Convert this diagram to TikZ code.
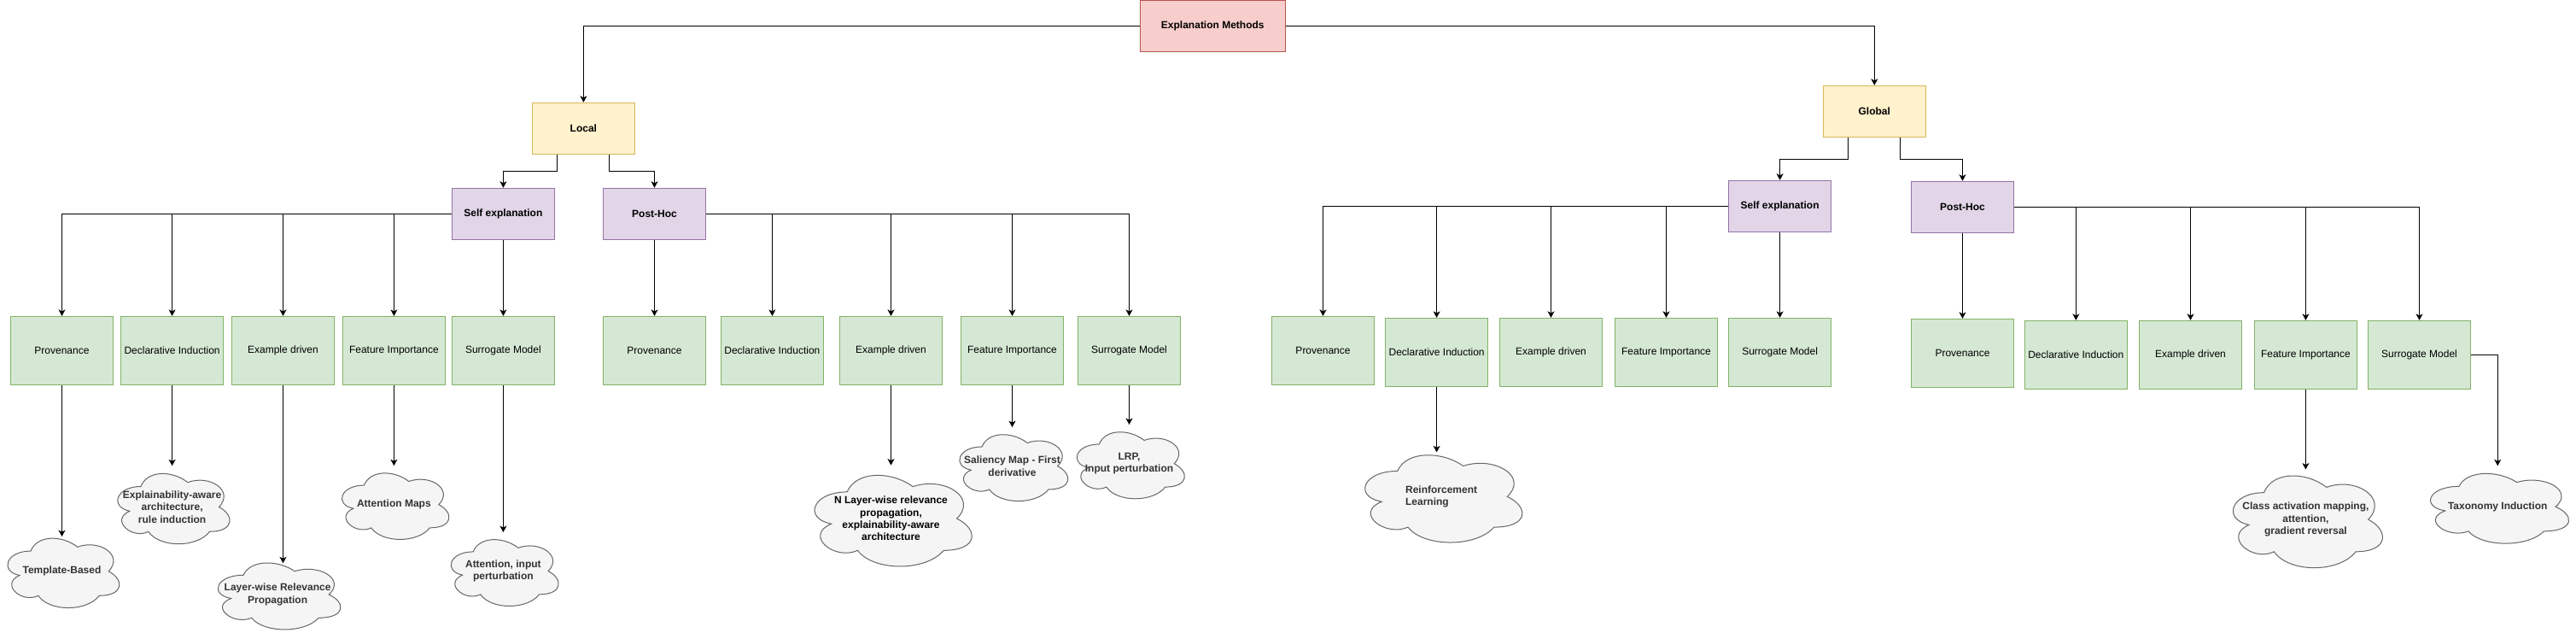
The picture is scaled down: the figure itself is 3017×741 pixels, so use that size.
\documentclass[tikz,border=0pt]{standalone}
\usepackage{fontspec}
\setmainfont{Liberation Sans}
\usetikzlibrary{arrows.meta}

\definecolor{xaicolor0000}{RGB}{248,206,204}
\definecolor{xaicolor0001}{RGB}{184,84,80}
\definecolor{xaicolor0002}{RGB}{255,242,204}
\definecolor{xaicolor0003}{RGB}{214,182,86}
\definecolor{xaicolor0004}{RGB}{225,213,231}
\definecolor{xaicolor0005}{RGB}{150,115,166}
\definecolor{xaicolor0006}{RGB}{213,232,212}
\definecolor{xaicolor0007}{RGB}{130,179,102}
\definecolor{xaicolor0008}{RGB}{245,245,245}
\definecolor{xaicolor0009}{RGB}{102,102,102}
\definecolor{xaicolor0010}{RGB}{51,51,51}

% cloud outline in a w x h box round (cx,cy), with a named text node on it
\newcommand{\cloudnode}[7][]{%
  \begin{scope}[shift={(#3pt-0.5*#5pt,#4pt-0.5*#6pt)},x=#5pt,y=#6pt]
    \draw[pstyle5] (0.25,0.25) .. controls (0.05,0.25) and (0,0.5) .. (0.16,0.55)
      .. controls (0,0.66) and (0.18,0.9) .. (0.31,0.8)
      .. controls (0.4,1) and (0.7,1) .. (0.8,0.8)
      .. controls (1,0.8) and (1,0.6) .. (0.875,0.5)
      .. controls (1,0.3) and (0.8,0.1) .. (0.625,0.2)
      .. controls (0.5,0.05) and (0.3,0.05) .. (0.25,0.25) -- cycle;
    \node[pstyle6,minimum width=#5pt,minimum height=#6pt,#1] (#2) at (0.5,0.5) {#7};
  \end{scope}}

\begin{document}
\begin{tikzpicture}[
  yscale = -1,
  pstyle0/.style = {draw=xaicolor0001,fill=xaicolor0000,line width=1pt,minimum width=170pt,minimum height=60pt,inner sep=0pt,font=\fontsize{12pt}{14.4pt}\selectfont\bfseries},
  pstyle1/.style = {draw=xaicolor0003,fill=xaicolor0002,line width=1pt,minimum width=120pt,minimum height=60pt,inner sep=0pt,font=\fontsize{12pt}{14.4pt}\selectfont\bfseries},
  pstyle2/.style = {draw=xaicolor0005,fill=xaicolor0004,line width=1pt,minimum width=120pt,minimum height=60pt,inner sep=0pt,font=\fontsize{12pt}{14.4pt}\selectfont\bfseries},
  pstyle3/.style = {draw=xaicolor0007,fill=xaicolor0006,line width=1pt,minimum width=120pt,minimum height=80pt,inner sep=0pt,font=\fontsize{12pt}{14.4pt}\selectfont},
  pstyle4/.style = {draw=black,line width=1pt,-{Stealth[length=7.5pt,width=8pt,inset=2pt]}},
  pstyle5/.style = {draw=xaicolor0009,fill=xaicolor0008,line width=1pt},
  pstyle6/.style = {text=xaicolor0010,inner sep=0pt,align=center,font=\fontsize{12pt}{14.4pt}\selectfont\bfseries},
]
  \useasboundingbox (0pt,0pt) rectangle (3017pt,741pt);
  \node[pstyle0] (em) at (1420.3pt,30.3pt) {Explanation Methods};
  \node[pstyle1] (local) at (683.4pt,150.3pt) {Local};
  \node[pstyle1] (global) at (2195.3pt,130.3pt) {Global};
  \node[pstyle2] (lself) at (589.4pt,250.3pt) {Self explanation};
  \node[pstyle2] (lpost) at (766.5pt,250.3pt) {Post-Hoc};
  \node[pstyle2] (gself) at (2084.6pt,241.3pt) {Self explanation};
  \node[pstyle2] (gpost) at (2298.5pt,242.3pt) {Post-Hoc};
  \node[pstyle3] (lsprov) at (72.5pt,410.4pt) {Provenance};
  \node[pstyle3] (lsdecl) at (201.6pt,410.4pt) {Declarative Induction};
  \node[pstyle3] (lsexam) at (331.5pt,410.4pt) {Example driven};
  \node[pstyle3] (lsfeat) at (461.4pt,410.4pt) {Feature Importance};
  \node[pstyle3] (lssurr) at (589.4pt,410.4pt) {Surrogate Model};
  \node[pstyle3] (lpprov) at (766.5pt,410.4pt) {Provenance};
  \node[pstyle3] (lpdecl) at (904.4pt,410.4pt) {Declarative Induction};
  \node[pstyle3] (lpexam) at (1043.5pt,410.4pt) {Example driven};
  \node[pstyle3] (lpfeat) at (1185.5pt,410.4pt) {Feature Importance};
  \node[pstyle3] (lpsurr) at (1322.5pt,410.4pt) {Surrogate Model};
  \node[pstyle3] (gsprov) at (1549.5pt,410.4pt) {Provenance};
  \node[pstyle3] (gsdecl) at (1682.6pt,412.4pt) {Declarative Induction};
  \node[pstyle3] (gsexam) at (1816.5pt,412.4pt) {Example driven};
  \node[pstyle3] (gsfeat) at (1951.5pt,412.4pt) {Feature Importance};
  \node[pstyle3] (gssurr) at (2084.6pt,412.4pt) {Surrogate Model};
  \node[pstyle3] (gpprov) at (2298.5pt,413.4pt) {Provenance};
  \node[pstyle3] (gpdecl) at (2431.3pt,415.4pt) {Declarative Induction};
  \node[pstyle3] (gpexam) at (2565.5pt,415.4pt) {Example driven};
  \node[pstyle3] (gpfeat) at (2700.4pt,415.4pt) {Feature Importance};
  \node[pstyle3] (gpsurr) at (2833.5pt,415.4pt) {Surrogate Model};
  \cloudnode{tb}{72.5}{668.8}{146}{95}{Template-Based}
  \cloudnode{ea}{201.6}{593.5}{146.5}{96}{Explainability-aware\\architecture,\\rule induction}
  \cloudnode{lrp}{325.1}{696}{160.3}{91}{Layer-wise Relevance\\Propagation}
  \cloudnode{am}{461.4}{590.7}{140}{90.5}{Attention Maps}
  \cloudnode{aip}{589.4}{668.6}{140.6}{90.8}{Attention, input\\perturbation}
  \cloudnode[text=black]{nlr}{1043.5}{607}{205.5}{124.4}{N Layer-wise relevance\\propagation,\\explainability-aware\\architecture}
  \cloudnode{sm}{1185.5}{545.7}{141.7}{90.8}{Saliency Map - First\\derivative}
  \cloudnode{lrpip}{1322.5}{542.8}{140.7}{91.1}{LRP,\\Input perturbation}
  \cloudnode[align=left]{rl}{1688.1}{581.3}{205.6}{119.4}{Reinforcement\\Learning}
  \cloudnode{cam}{2700.4}{608.1}{195.4}{125.7}{Class activation mapping,\\attention,\\gradient reversal}
  \cloudnode{ti}{2925.2}{593.2}{180.8}{95.4}{Taxonomy Induction}
  \draw[pstyle4] (em.west) -| (local.north);
  \draw[pstyle4] (em.east) -| (global.north);
  \draw[pstyle4] ([xshift=30pt]local.south west) -- ++(0pt,20pt) -| (lself.north);
  \draw[pstyle4] ([xshift=-30pt]local.south east) -- ++(0pt,20pt) -| (lpost.north);
  \draw[pstyle4] ([xshift=30pt]global.south west) -- ++(0pt,26pt) -| (gself.north);
  \draw[pstyle4] ([xshift=-30pt]global.south east) -- ++(0pt,26pt) -| (gpost.north);
  \draw[pstyle4] (lself.west) -| (lsprov.north);
  \draw[pstyle4] (lself.west) -| (lsdecl.north);
  \draw[pstyle4] (lself.west) -| (lsexam.north);
  \draw[pstyle4] (lself.west) -| (lsfeat.north);
  \draw[pstyle4] (lself.south) -- (lssurr.north);
  \draw[pstyle4] (lpost.south) -- (lpprov.north);
  \draw[pstyle4] (lpost.east) -| (lpdecl.north);
  \draw[pstyle4] (lpost.east) -| (lpexam.north);
  \draw[pstyle4] (lpost.east) -| (lpfeat.north);
  \draw[pstyle4] (lpost.east) -| (lpsurr.north);
  \draw[pstyle4] (gself.west) -| (gsprov.north);
  \draw[pstyle4] (gself.west) -| (gsdecl.north);
  \draw[pstyle4] (gself.west) -| (gsexam.north);
  \draw[pstyle4] (gself.west) -| (gsfeat.north);
  \draw[pstyle4] (gself.south) -- (gssurr.north);
  \draw[pstyle4] (gpost.south) -- (gpprov.north);
  \draw[pstyle4] (gpost.east) -| (gpdecl.north);
  \draw[pstyle4] (gpost.east) -| (gpexam.north);
  \draw[pstyle4] (gpost.east) -| (gpfeat.north);
  \draw[pstyle4] (gpost.east) -| (gpsurr.north);
  \draw[pstyle4,shorten >=-7pt] (lsprov.south) -- (tb.north);
  \draw[pstyle4] (lsdecl.south) -- (ea.north);
  \draw[pstyle4,shorten >=-9pt] (lsexam.south) -- (lsexam.south |- lrp.north);
  \draw[pstyle4] (lsfeat.south) -- (am.north);
  \draw[pstyle4] (lssurr.south) -- (aip.north);
  \draw[pstyle4] (lpexam.south) -- (nlr.north);
  \draw[pstyle4] (lpfeat.south) -- (sm.north);
  \draw[pstyle4] (lpsurr.south) -- (lrpip.north);
  \draw[pstyle4,shorten >=-8pt] (gsdecl.south) -- (gsdecl.south |- rl.north);
  \draw[pstyle4,shorten >=-4.5pt] (gpfeat.south) -- (cam.north);
  \draw[pstyle4] (gpsurr.east) -| (ti.north);
\end{tikzpicture}
\end{document}
